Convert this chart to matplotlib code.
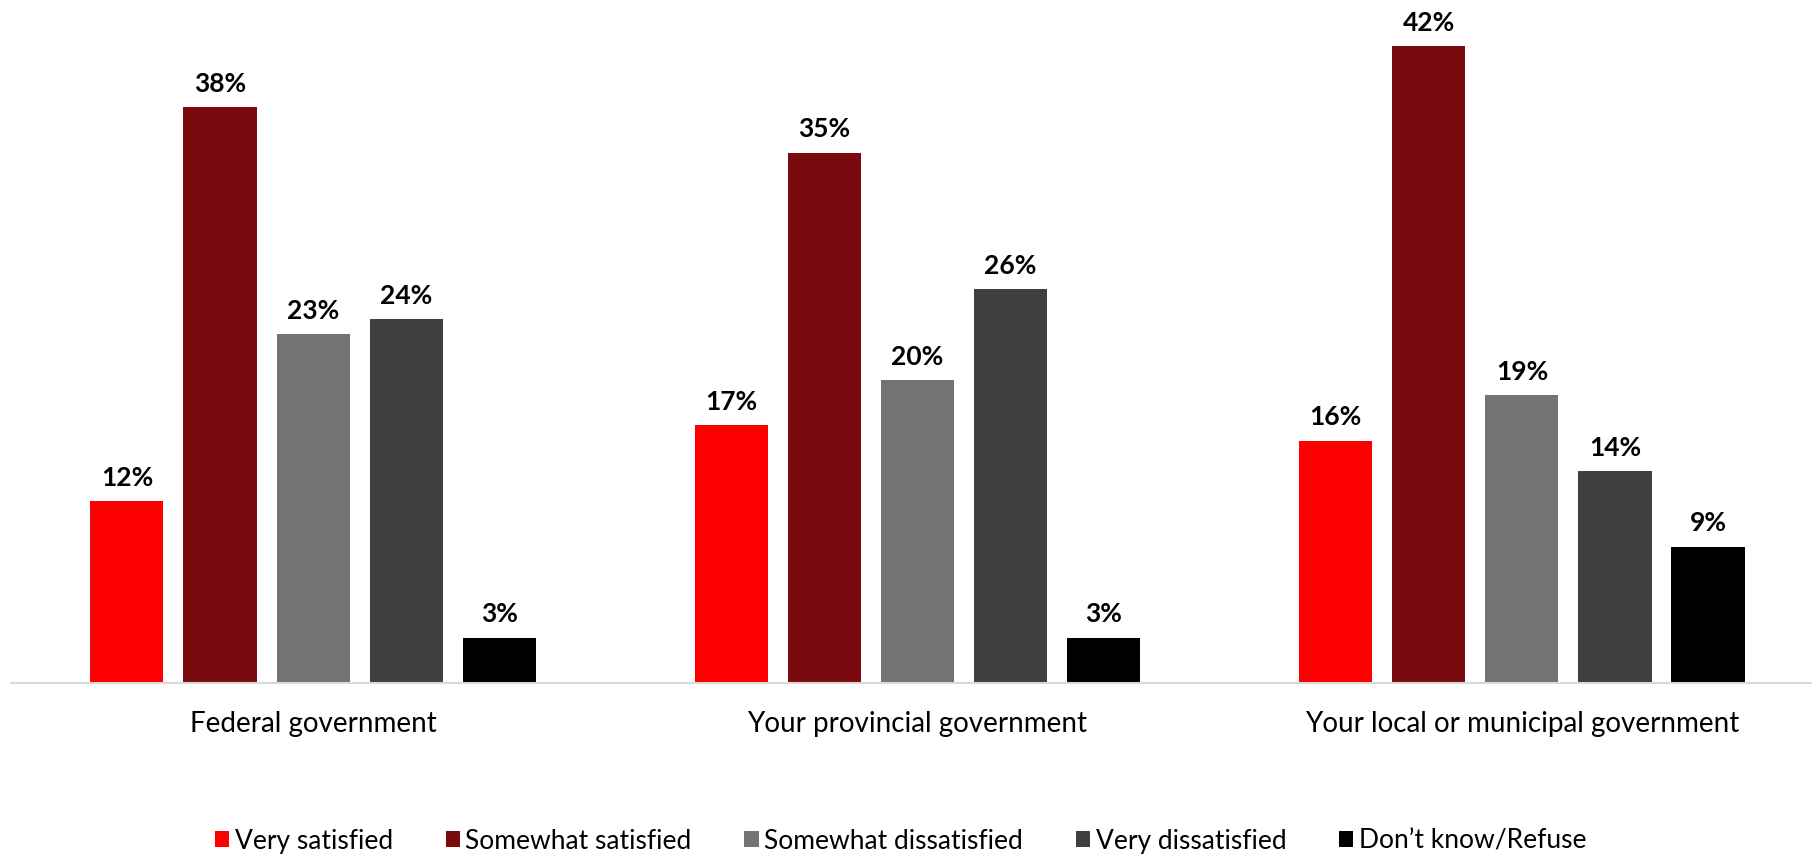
import matplotlib.pyplot as plt
import numpy as np

plt.rcParams["font.family"] = ["Lato", "DejaVu Sans"]

categories = ["Federal government", "Your provincial government",
              "Your local or municipal government"]
series = ["Very satisfied", "Somewhat satisfied", "Somewhat dissatisfied",
          "Very dissatisfied", "Don\u2019t know/Refuse"]
values = [
    [12, 17, 16],
    [38, 35, 42],
    [23, 20, 19],
    [24, 26, 14],
    [3, 3, 9],
]
colors = ["#FF0000", "#7B0A0E", "#737373", "#404040", "#000000"]

fig = plt.figure(figsize=(18.12, 8.56), dpi=100)
ax = fig.add_axes([0.006, 0.2021, 0.994, 0.7967])

x = np.arange(len(categories))
step = 0.154
width = 0.121
handles = []
for i, (name, vals, col) in enumerate(zip(series, values, colors)):
    pos = x + (i - 2) * step
    bars = ax.bar(pos, vals, width=width, color=col, label=name)
    handles.append(bars)
    for b, v in zip(bars, vals):
        ax.annotate(f"{v}%", (b.get_x() + b.get_width() / 2, v),
                    xytext=(0, 8), textcoords="offset points",
                    ha="center", va="bottom", fontsize=19, fontweight="bold")

ax.set_xlim(-0.5, 2.48)
ax.set_ylim(0, 45)
ax.set_yticks([])
ax.set_xticks(x)
ax.set_xticklabels(categories, fontsize=20)
ax.tick_params(axis="x", length=0, pad=20)
for s in ["top", "right", "left"]:
    ax.spines[s].set_visible(False)
ax.spines["bottom"].set_color("#D9D9D9")
ax.spines["bottom"].set_linewidth(1.5)

fig.legend(handles=handles, labels=series, loc="center",
           bbox_to_anchor=(0.497, 0.0175), ncol=5, frameon=False,
           fontsize=19, handlelength=0.55, handleheight=0.55,
           handletextpad=0.2, columnspacing=2.0)

fig.savefig("out.png", dpi=100)
